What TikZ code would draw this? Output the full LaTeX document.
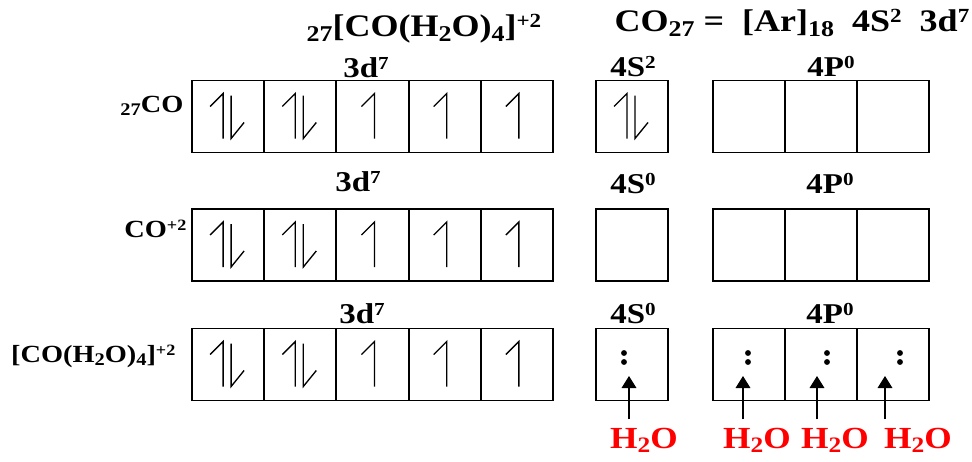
\documentclass[tikz,border=0pt]{standalone}
\usepackage{fontspec}
\setmainfont{Liberation Serif}[FakeStretch=1.15]
\usepackage{tikz}
\usetikzlibrary{arrows.meta, positioning}

% indices y exponentes
\makeatletter
\newcommand{\ind}[1]{\raisebox{-0.16em}{\fontsize{\fpeval{0.72*\f@size}}{1}\selectfont #1}}
\newcommand{\exs}[1]{\raisebox{0.26em}{\fontsize{\fpeval{0.64*\f@size}}{1}\selectfont #1}}
\makeatother

% flechas de espin dentro de un orbital
\newcommand{\spinpar}[1]{%
  \draw[spin] ([shift={(-5,22)}]#1.center) -- ++(0,-45) -- ++(-13,13);
  \draw[spin] ([shift={(3,-21)}]#1.center) -- ++(0,43) -- ++(13,-16);}
\newcommand{\spinuno}[1]{%
  \draw[spin] ([shift={(2,22)}]#1.center) -- ++(0,-45) -- ++(-13,13);}

\begin{document}
\begin{tikzpicture}[x=0.75pt, y=-0.75pt,
        orb/.style={rectangle, draw=black, line width=1.4pt, minimum width=54.15pt, minimum height=54pt, inner sep=0pt, outer sep=0pt},
        spin/.style={line width=1pt, draw=black},
        titulo/.style={font=\bfseries\fontsize{23.5}{25}\selectfont, inner sep=1pt},
        big/.style={font=\bfseries\fontsize{21.5}{23}\selectfont, inner sep=1pt},
        side/.style={font=\bfseries\fontsize{18.5}{20}\selectfont, inner sep=1pt},
        agua/.style={font=\bfseries\fontsize{23}{25}\selectfont, text=red, inner sep=2pt},
        flecha/.style={-{Triangle[length=9pt, width=11pt]}, line width=0.9pt, draw=black, shorten <=4pt}
    ]
    \useasboundingbox (0,0) rectangle (972,461);

    % Titulos
    \node[titulo, anchor=base west] (tit) at (305,36) {\ind{27}[CO(H\ind{2}O)\ind{4}]\exs{+2}};
    \node[titulo, anchor=base west] (conf) at (613,31) {CO\ind{27} =\ \ [Ar]\ind{18}\ \ 4S\exs{2}\ \ 3d\exs{7}};

    % Fila 1: atomo neutro
    \foreach \i in {1,...,5} \node[orb] (a\i) at ({192+72.2*(\i-0.5)},116.5) {};
    \node[orb] (sa) at (632,116.5) {};
    \foreach \i in {1,2,3} \node[orb] (pa\i) at ({713+72*(\i-0.5)},116.5) {};
    \node[big, anchor=base] (da) at (366,77) {3d\exs{7}};
    \node[big, anchor=base] (ea) at (633,76) {4S\exs{2}};
    \node[big, anchor=base] (fa) at (831,76) {4P\exs{0}};
    \node[side, anchor=base east] (na) at (185,112) {\ind{27}CO};
    \spinpar{a1} \spinpar{a2} \spinuno{a3} \spinuno{a4} \spinuno{a5}
    \spinpar{sa}

    % Fila 2: ion
    \foreach \i in {1,...,5} \node[orb] (b\i) at ({192+72.2*(\i-0.5)},245) {};
    \node[orb] (sb) at (632,245) {};
    \foreach \i in {1,2,3} \node[orb] (pb\i) at ({713+72*(\i-0.5)},245) {};
    \node[big, anchor=base] (db) at (358,191) {3d\exs{7}};
    \node[big, anchor=base] (eb) at (633,193) {4S\exs{0}};
    \node[big, anchor=base] (fb) at (830,193) {4P\exs{0}};
    \node[side, anchor=base east] (nb) at (188,237) {CO\exs{+2}};
    \spinpar{b1} \spinpar{b2} \spinuno{b3} \spinuno{b4} \spinuno{b5}

    % Fila 3: complejo
    \foreach \i in {1,...,5} \node[orb] (c\i) at ({192+72.2*(\i-0.5)},364.5) {};
    \node[orb] (sc) at (632,364.5) {};
    \foreach \i in {1,2,3} \node[orb] (pc\i) at ({713+72*(\i-0.5)},364.5) {};
    \node[big, anchor=base] (dc) at (362,323) {3d\exs{7}};
    \node[big, anchor=base] (ec) at (633,323) {4S\exs{0}};
    \node[big, anchor=base] (fc) at (830,323) {4P\exs{0}};
    \node[side, anchor=base east] (nc) at (177,362) {[CO(H\ind{2}O)\ind{4}]\exs{+2}};
    \spinpar{c1} \spinpar{c2} \spinuno{c3} \spinuno{c4} \spinuno{c5}

    % pares de electrones cedidos
    \foreach \x in {624,748,827,900} {
        \fill (\x,353) circle (2.2pt);
        \fill (\x,362) circle (2.2pt);
    }

    % ligandos
    \node[agua, anchor=base] (w1) at (644,448) {H\ind{2}O};
    \node[agua, anchor=base] (w2) at (757,448) {H\ind{2}O};
    \node[agua, anchor=base] (w3) at (835,448) {H\ind{2}O};
    \node[agua, anchor=base] (w4) at (918,448) {H\ind{2}O};
    \coordinate (t1) at (629,376);
    \coordinate (t2) at (743,376);
    \coordinate (t3) at (817,376);
    \coordinate (t4) at (885,376);
    \foreach \k in {1,2,3,4} \draw[flecha] (w\k.north -| t\k) -- (t\k);
\end{tikzpicture}
\end{document}
